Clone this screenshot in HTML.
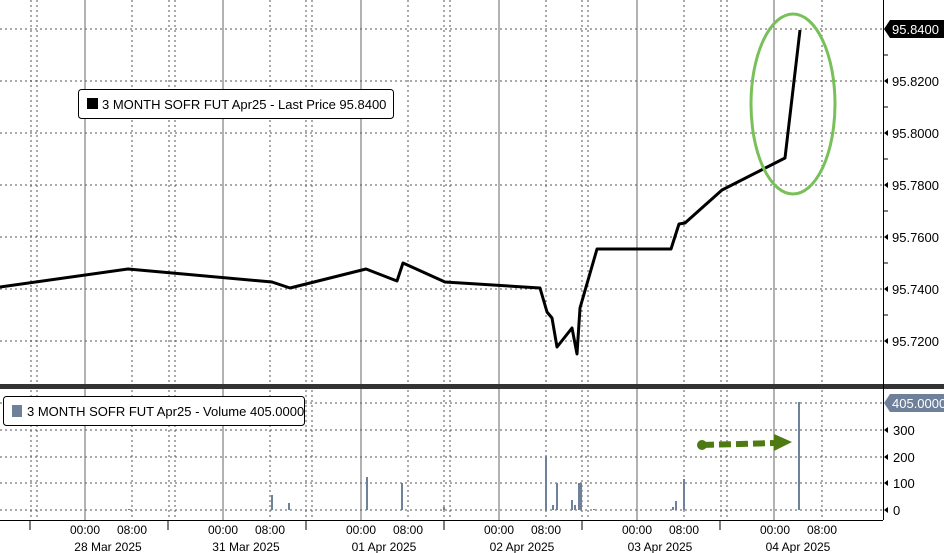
<!DOCTYPE html><html><head><style>body{margin:0;background:#fff}svg{display:block;font-family:"Liberation Sans",sans-serif}</style></head><body>
<svg width="944" height="553" viewBox="0 0 944 553">
<rect width="944" height="553" fill="#fff"/>
<g stroke="#555" stroke-width="1" stroke-dasharray="2,3">
<g id="v">
<line x1="31" y1="0" x2="31" y2="520"/><line x1="37" y1="0" x2="37" y2="520"/><line x1="132" y1="0" x2="132" y2="520"/>
<line x1="169" y1="0" x2="169" y2="520"/><line x1="175" y1="0" x2="175" y2="520"/><line x1="270" y1="0" x2="270" y2="520"/>
<line x1="306" y1="0" x2="306" y2="520"/><line x1="312" y1="0" x2="312" y2="520"/><line x1="408" y1="0" x2="408" y2="520"/>
<line x1="444" y1="0" x2="444" y2="520"/><line x1="450" y1="0" x2="450" y2="520"/><line x1="546" y1="0" x2="546" y2="520"/>
<line x1="582" y1="0" x2="582" y2="520"/><line x1="588" y1="0" x2="588" y2="520"/><line x1="684" y1="0" x2="684" y2="520"/>
<line x1="721" y1="0" x2="721" y2="520"/><line x1="727" y1="0" x2="727" y2="520"/><line x1="822" y1="0" x2="822" y2="520"/>
</g>
<line x1="0" y1="29" x2="883" y2="29"/><line x1="0" y1="81" x2="883" y2="81"/><line x1="0" y1="133" x2="883" y2="133"/><line x1="0" y1="185" x2="883" y2="185"/><line x1="0" y1="237" x2="883" y2="237"/><line x1="0" y1="289" x2="883" y2="289"/><line x1="0" y1="341" x2="883" y2="341"/>
<line x1="0" y1="403" x2="883" y2="403"/><line x1="0" y1="430" x2="883" y2="430"/><line x1="0" y1="457" x2="883" y2="457"/><line x1="0" y1="483" x2="883" y2="483"/><line x1="0" y1="510" x2="883" y2="510"/>
</g>
<g stroke="#666" stroke-width="1">
<line x1="85" y1="0" x2="85" y2="520"/><line x1="223" y1="0" x2="223" y2="520"/><line x1="361" y1="0" x2="361" y2="520"/><line x1="499" y1="0" x2="499" y2="520"/><line x1="637" y1="0" x2="637" y2="520"/><line x1="774" y1="0" x2="774" y2="520"/>
</g>
<rect x="0" y="384" width="944" height="5" fill="#333"/>
<line x1="883.5" y1="0" x2="883.5" y2="520" stroke="#000"/>
<line x1="0" y1="520.5" x2="883" y2="520.5" stroke="#000"/>
<g stroke="#000">
<line x1="30" y1="520" x2="30" y2="530"/><line x1="168" y1="520" x2="168" y2="530"/><line x1="306" y1="520" x2="306" y2="530"/><line x1="444" y1="520" x2="444" y2="530"/><line x1="582" y1="520" x2="582" y2="530"/><line x1="720" y1="520" x2="720" y2="530"/>
<line x1="883" y1="55" x2="888" y2="55"/><line x1="883" y1="107" x2="888" y2="107"/><line x1="883" y1="159" x2="888" y2="159"/><line x1="883" y1="211" x2="888" y2="211"/><line x1="883" y1="263" x2="888" y2="263"/><line x1="883" y1="315" x2="888" y2="315"/>
</g>
<g font-size="13" fill="#000">
<text x="892" y="86">95.8200</text><text x="892" y="138">95.8000</text><text x="892" y="190">95.7800</text><text x="892" y="242">95.7600</text><text x="892" y="294">95.7400</text><text x="892" y="346">95.7200</text>
<text x="893" y="435">300</text><text x="893" y="462">200</text><text x="893" y="488">100</text><text x="893" y="515">0</text>
</g>
<g fill="#000"><polygon points="884,81 888,78 888,84"/><polygon points="884,133 888,130 888,136"/><polygon points="884,185 888,182 888,188"/><polygon points="884,237 888,234 888,240"/><polygon points="884,289 888,286 888,292"/><polygon points="884,341 888,338 888,344"/>
<polygon points="884,430 888,427 888,433"/><polygon points="884,457 888,454 888,460"/><polygon points="884,483 888,480 888,486"/><polygon points="884,510 888,507 888,513"/></g>
<polygon points="884,29 890,20 944,20 944,38 890,38" fill="#000"/>
<text x="892" y="34" font-size="13" fill="#fff">95.8400</text>
<polygon points="884,403 890,394 944,394 944,412 890,412" fill="#6e809a"/>
<text x="892" y="408" font-size="13" fill="#fff">405.0000</text>
<polyline fill="none" stroke="#000" stroke-width="3" stroke-linejoin="round" points="0,287 128,269 272,282 290,288 366,269 397,281 403,263 445,282 540,288 547,312 552,318 557,347 572,328 577,354 580,308 597,249 671,249 679,224 685,223 722,190 785,158 800,30"/>
<g fill="#6e809a">
<rect x="128" y="509" width="2" height="1"/><rect x="271" y="495" width="2" height="15"/><rect x="288" y="503" width="2" height="7"/><rect x="366" y="477" width="2" height="33"/><rect x="401" y="483" width="2" height="27"/><rect x="443" y="507" width="2" height="3"/>
<rect x="545" y="456" width="2" height="54"/><rect x="552" y="505" width="2" height="5"/><rect x="556" y="483" width="2" height="27"/><rect x="571" y="500" width="2" height="10"/><rect x="574" y="505" width="2" height="5"/><rect x="578" y="483" width="2" height="27"/><rect x="580" y="483" width="2" height="27"/><rect x="593" y="509" width="2" height="1"/>
<rect x="672" y="507" width="2" height="3"/><rect x="675" y="501" width="2" height="9"/><rect x="683" y="479" width="2" height="31"/><rect x="798" y="402" width="2" height="108"/>
</g>
<ellipse cx="793" cy="104" rx="42" ry="90" fill="none" stroke="#7ac05a" stroke-width="3"/>
<circle cx="702" cy="445" r="5" fill="#4e7a12"/>
<line x1="702" y1="445" x2="775" y2="443" stroke="#4e7a12" stroke-width="6" stroke-dasharray="12,5"/>
<polygon points="774,434 792,442 774,451" fill="#4e7a12"/>
<rect x="78.5" y="89.5" width="315" height="29" rx="3" fill="#fff" stroke="#000"/>
<rect x="87" y="98" width="11" height="11" fill="#000"/>
<text x="102" y="109" font-size="13">3 MONTH SOFR FUT Apr25 - Last Price 95.8400</text>
<rect x="3.5" y="396.5" width="301" height="29" rx="3" fill="#fff" stroke="#000"/>
<rect x="12" y="405" width="10" height="12" fill="#6e809a"/>
<text x="27" y="416" font-size="13">3 MONTH SOFR FUT Apr25 - Volume 405.0000</text>
<g font-size="12" text-anchor="middle">
<text x="85" y="534">00:00</text><text x="132" y="534">08:00</text><text x="108" y="551">28 Mar 2025</text>
<text x="223" y="534">00:00</text><text x="270" y="534">08:00</text><text x="246" y="551">31 Mar 2025</text>
<text x="361" y="534">00:00</text><text x="408" y="534">08:00</text><text x="384" y="551">01 Apr 2025</text>
<text x="499" y="534">00:00</text><text x="546" y="534">08:00</text><text x="522" y="551">02 Apr 2025</text>
<text x="637" y="534">00:00</text><text x="684" y="534">08:00</text><text x="660" y="551">03 Apr 2025</text>
<text x="775" y="534">00:00</text><text x="822" y="534">08:00</text><text x="798" y="551">04 Apr 2025</text>
</g>
</svg></body></html>
